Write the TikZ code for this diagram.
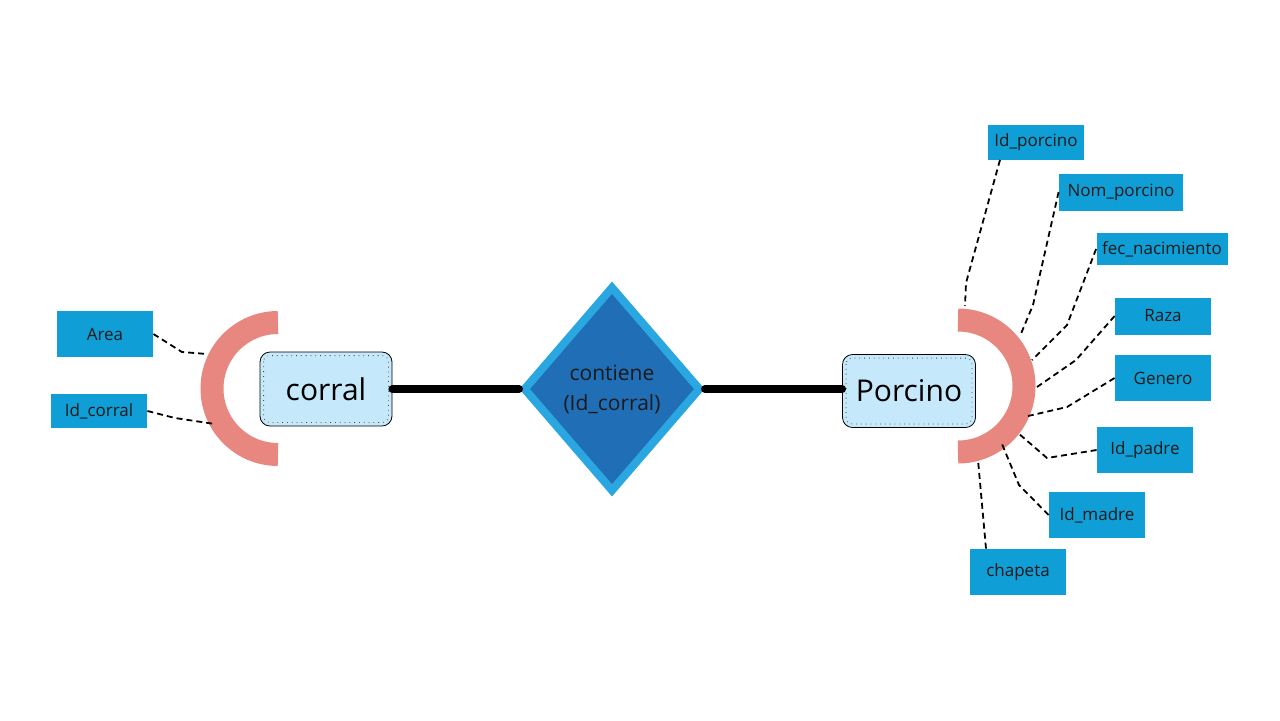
\documentclass[tikz,border=0pt]{standalone}
\usepackage{fontspec}
\setmainfont{Open Sans}
\usetikzlibrary{shapes.geometric, calc}
\definecolor{entfill}{HTML}{C5E9FB}
\definecolor{relborde}{HTML}{2AA7E1}
\definecolor{relfill}{HTML}{1F6EB6}
\definecolor{atrfill}{HTML}{0F9ED5}
\definecolor{arco}{HTML}{E8877F}
\definecolor{texto}{HTML}{1A1A1A}
\tikzstyle{entidad} = [rectangle, rounded corners=5pt, minimum width=66pt, minimum height=37pt, text centered, draw=black, fill=entfill, font=\fontsize{15}{18}\selectfont]
\tikzstyle{relacion} = [diamond, minimum width=89pt, minimum height=103pt, inner sep=0pt, draw=relborde, line width=4pt, fill=relfill, text=texto, align=center, font=\fontsize{10.5}{15}\selectfont]
\tikzstyle{atributo} = [rectangle, minimum width=48pt, minimum height=23pt, inner sep=2pt, text centered, fill=atrfill, text=texto, font=\fontsize{8.5}{10}\selectfont]
\tikzstyle{conexion} = [line width=4pt, line cap=round]
\tikzstyle{enlace} = [line width=0.9pt, dash pattern=on 3pt off 2pt]
\tikzstyle{cardinal} = [line width=11.5pt, draw=arco]

\begin{document}
\begin{tikzpicture}[x=0.5pt, y=-0.5pt]
    \useasboundingbox (0,0) rectangle (1280,720);

    % arcos de participacion
    \draw [cardinal] (278,322.5) arc[start angle=90, end angle=270, radius=33pt];
    \draw [cardinal] (958,320) arc[start angle=90, end angle=-90, radius=33pt];

    % entidades y relacion
    \node (corral) [entidad] at (326,389) {corral};
    \node (porcino) [entidad, minimum width=66.5pt, minimum height=36.5pt] at (909,391) {Porcino};
    \node (contiene) [relacion] at (612,389) {contiene\\(Id\_corral)};
    \foreach \e in {corral, porcino}
        \draw [dotted, line width=0.4pt, black!70, rounded corners=3pt] ([shift={(2pt,-2pt)}]\e.north west) rectangle ([shift={(-2pt,2pt)}]\e.south east);

    \draw [conexion] (corral) -- (contiene);
    \draw [conexion] (contiene.east) -- (contiene.east -| porcino.west);

    % atributos de corral
    \node (area) [atributo] at (105,334) {Area};
    \node (idcorral) [atributo, minimum height=17pt] at (99,411) {Id\_corral};

    % atributos de porcino
    \node (idporcino) [atributo, minimum height=17.5pt] at (1036,142) {Id\_porcino};
    \node (nomporcino) [atributo, minimum width=62pt, minimum height=18.5pt] at (1121,192) {Nom\_porcino};
    \node (fecnac) [atributo, minimum width=65.5pt, minimum height=16pt] at (1162,249) {fec\_nacimiento};
    \node (raza) [atributo, minimum height=18.5pt] at (1163,316) {Raza};
    \node (genero) [atributo] at (1163,378) {Genero};
    \node (idpadre) [atributo] at (1145,450) {Id\_padre};
    \node (idmadre) [atributo] at (1097,515) {Id\_madre};
    \node (chapeta) [atributo] at (1018,572) {chapeta};

    % puntos sobre los arcos
    \coordinate (pArea) at (207,354);
    \coordinate (pIdcorral) at (215,424);
    \coordinate (pIdporcino) at (965,306);
    \coordinate (pNom) at (1020,336);
    \coordinate (pFec) at (1032,360);
    \coordinate (pRaza) at (1037,387);
    \coordinate (pGenero) at (1028,416);
    \coordinate (pPadre) at (1018,433);
    \coordinate (pMadre) at (1002,444);
    \coordinate (pChapeta) at (978,460);

    \draw [enlace] (area.east) -- (182,352) -- (pArea);
    \draw [enlace] (idcorral.east) -- (175,418) -- (pIdcorral);
    \draw [enlace] ([xshift=-18pt]idporcino.south) -- (966,283) -- (pIdporcino);
    \draw [enlace] (nomporcino.west) -- (1033,305) -- (pNom);
    \draw [enlace] (fecnac.west) -- (1067,325) -- (pFec);
    \draw [enlace] (raza.west) -- (1076,360) -- (pRaza);
    \draw [enlace] (genero.west) -- (1067,407) -- (pGenero);
    \draw [enlace] (idpadre.west) -- (1047,458) -- (pPadre);
    \draw [enlace] (idmadre.west) -- (1019,485) -- (pMadre);
    \draw [enlace] ([xshift=-16pt]chapeta.north) -- (pChapeta);
\end{tikzpicture}
\end{document}
